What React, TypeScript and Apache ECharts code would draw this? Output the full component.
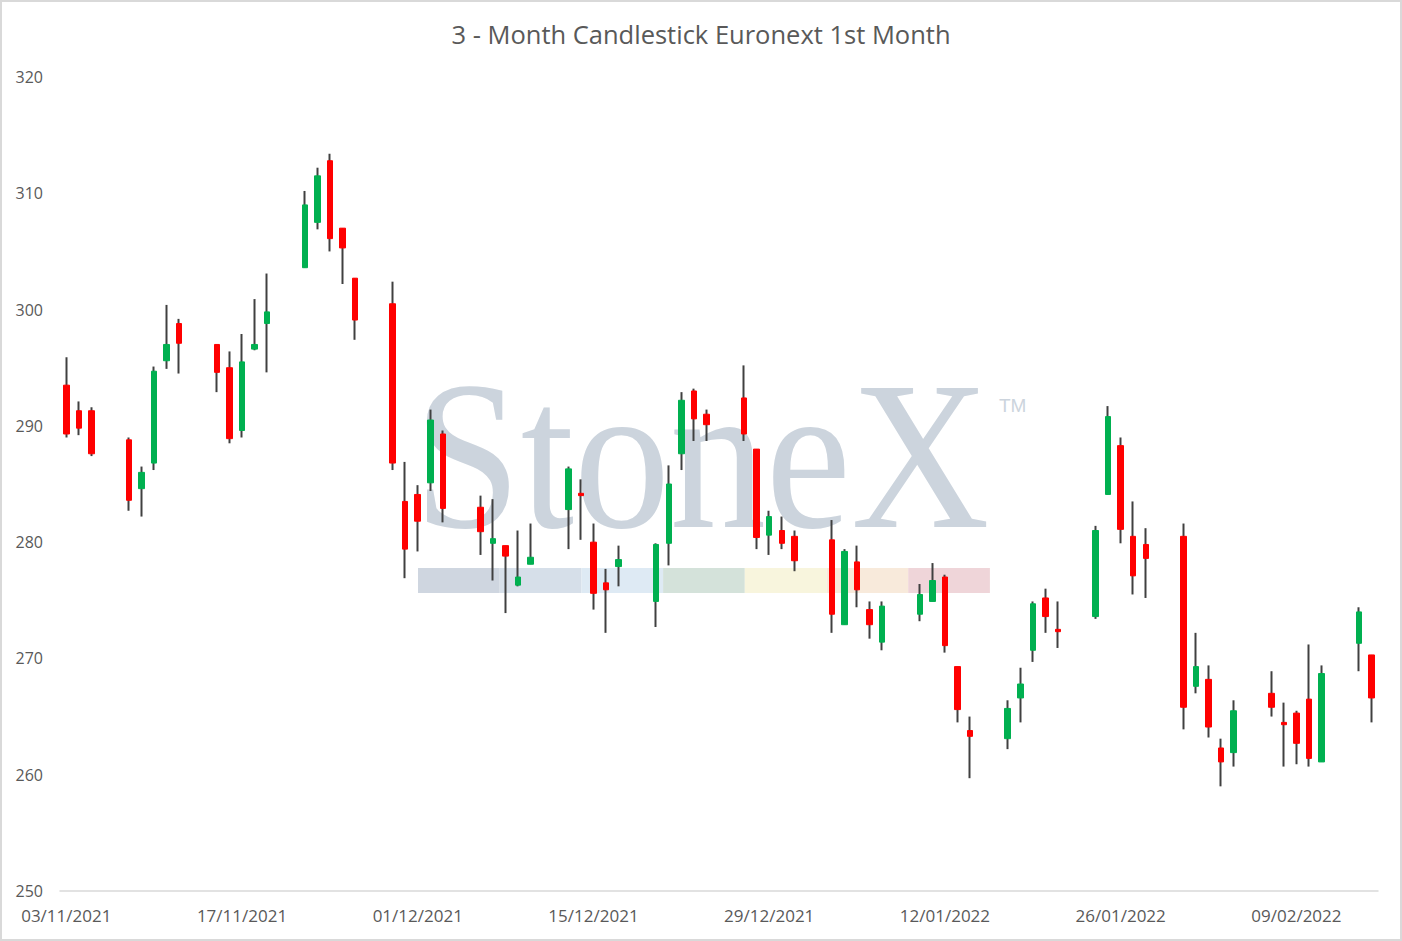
import { useEffect, useRef } from 'react';
import * as echarts from 'echarts';

// trading days (dd/mm/yyyy) and daily prices
const dates = [
  '03/11/2021', '04/11/2021', '05/11/2021',
  '08/11/2021', '09/11/2021', '10/11/2021', '11/11/2021', '12/11/2021',
  '15/11/2021', '16/11/2021', '17/11/2021', '18/11/2021', '19/11/2021',
  '22/11/2021', '23/11/2021', '24/11/2021', '25/11/2021', '26/11/2021',
  '29/11/2021', '30/11/2021', '01/12/2021', '02/12/2021', '03/12/2021',
  '06/12/2021', '07/12/2021', '08/12/2021', '09/12/2021', '10/12/2021',
  '13/12/2021', '14/12/2021', '15/12/2021', '16/12/2021', '17/12/2021',
  '20/12/2021', '21/12/2021', '22/12/2021', '23/12/2021', '24/12/2021',
  '27/12/2021', '28/12/2021', '29/12/2021', '30/12/2021', '31/12/2021',
  '03/01/2022', '04/01/2022', '05/01/2022', '06/01/2022', '07/01/2022',
  '10/01/2022', '11/01/2022', '12/01/2022', '13/01/2022', '14/01/2022',
  '17/01/2022', '18/01/2022', '19/01/2022', '20/01/2022', '21/01/2022',
  '24/01/2022', '25/01/2022', '26/01/2022', '27/01/2022', '28/01/2022',
  '31/01/2022', '01/02/2022', '02/02/2022', '03/02/2022', '04/02/2022',
  '07/02/2022', '08/02/2022', '09/02/2022', '10/02/2022', '11/02/2022',
  '14/02/2022', '15/02/2022'
];

const open = [
  293.5, 291.3, 291.3,
  288.8, 284.6, 286.8, 295.6, 298.8,
  297.0, 295.0, 289.6, 296.6, 298.8,
  303.6, 307.5, 312.8, 307.0, 302.7,
  300.5, 283.5, 284.1, 285.1, 289.3,
  283.0, 279.9, 279.7, 276.3, 278.1,
  282.8, 284.2, 280.0, 276.5, 277.9,
  274.9, 279.9, 287.6, 293.0, 291.0,
  292.4, 288.0, 280.6, 281.0, 280.5,
  280.2, 272.9, 278.3, 274.2, 271.4,
  273.8, 274.9, 277.0, 269.3, 263.8,
  263.1, 266.6, 270.7, 275.2, 272.5,
  273.6, 284.1, 288.3, 280.5, 279.8,
  280.5, 267.6, 268.2, 262.3, 261.9,
  267.0, 264.5, 265.3, 266.5, 261.1,
  271.3, 270.3
];

const close = [
  289.3, 289.8, 287.6,
  283.6, 286.0, 294.7, 297.0, 297.1,
  294.6, 288.9, 295.5, 297.0, 299.8,
  309.0, 311.5, 306.1, 305.3, 299.1,
  286.8, 279.4, 281.8, 290.5, 282.9,
  280.9, 280.3, 278.8, 277.0, 278.7,
  286.3, 284.0, 275.6, 275.9, 278.5,
  279.8, 285.0, 292.2, 290.6, 290.1,
  289.3, 280.4, 282.2, 279.9, 278.4,
  273.8, 279.2, 275.9, 272.9, 274.5,
  275.5, 276.7, 271.1, 265.6, 263.3,
  265.7, 267.8, 274.7, 273.6, 272.3,
  281.0, 290.8, 281.1, 277.1, 278.6,
  265.8, 269.3, 264.1, 261.1, 265.5,
  265.8, 264.3, 262.7, 261.4, 268.7,
  274.0, 266.6
];

const low = [
  289.0, 289.2, 287.4,
  282.7, 282.2, 286.2, 294.9, 294.5,
  292.9, 288.5, 289.0, 296.5, 294.6,
  303.6, 306.9, 305.0, 302.2, 297.4,
  286.2, 276.9, 279.2, 284.4, 281.7,
  278.9, 276.7, 273.9, 276.2, 278.1,
  279.4, 280.2, 274.2, 272.2, 276.2,
  272.7, 278.0, 286.2, 288.7, 288.7,
  288.7, 279.4, 278.9, 279.4, 277.5,
  272.2, 272.9, 274.4, 271.7, 270.7,
  273.2, 274.9, 270.5, 264.5, 259.7,
  262.2, 264.5, 269.7, 272.2, 270.9,
  273.4, 284.1, 279.9, 275.5, 275.2,
  263.9, 267.0, 263.2, 259.0, 260.7,
  265.0, 260.7, 260.9, 260.7, 261.1,
  268.9, 264.5
];

const high = [
  295.9, 292.1, 291.6,
  289.0, 286.5, 295.1, 300.4, 299.2,
  297.0, 296.4, 297.9, 300.9, 303.1,
  310.2, 312.2, 313.4, 307.0, 302.7,
  302.4, 286.9, 284.9, 291.4, 289.6,
  284.0, 283.7, 279.7, 281.0, 281.6,
  286.5, 285.4, 281.6, 277.7, 279.7,
  279.9, 286.6, 292.9, 293.2, 291.4,
  295.2, 288.0, 282.7, 282.2, 281.0,
  281.9, 279.4, 279.7, 274.9, 274.9,
  276.4, 278.2, 277.2, 269.3, 265.0,
  266.4, 269.2, 274.9, 276.0, 274.9,
  281.4, 291.7, 289.0, 283.5, 281.2,
  281.6, 272.2, 269.4, 263.1, 266.4,
  268.9, 266.2, 265.5, 271.2, 269.4,
  274.4, 270.3
];

const DAY = 86400000;
const pad = (n: number) => (n < 10 ? '0' + n : '' + n);
const toUTC = (d: string) => {
  const [dd, mm, yy] = d.split('/').map(Number);
  return Date.UTC(yy, mm - 1, dd);
};
const fmt = (t: number) => {
  const d = new Date(t);
  return pad(d.getUTCDate()) + '/' + pad(d.getUTCMonth() + 1) + '/' + d.getUTCFullYear();
};

// date axis: every calendar day between first and last trading day
const calendar: string[] = [];
for (let t = toUTC(dates[0]); t <= toUTC(dates[dates.length - 1]); t += DAY) {
  calendar.push(fmt(t));
}
const indexOf = new Map(dates.map((d, i) => [d, i]));

const wickData = calendar.map(d => {
  const i = indexOf.get(d);
  return i === undefined ? '-' : [open[i], close[i], low[i], high[i]];
});
const bodyData = calendar.map(d => {
  const i = indexOf.get(d);
  if (i === undefined) return '-';
  return [open[i], close[i], Math.min(open[i], close[i]), Math.max(open[i], close[i])];
});

const FONT = '"Open Sans", "Noto Sans", sans-serif';
const TEXT = '#595959';
const WM = '#ccd4dd';
const stripe = ['#cfd6e0', '#d6dfe9', '#deeaf4', '#d4e2da', '#f8f5dd', '#f8eadb', '#efd5d9'];

export default function App() {
  const chartRef = useRef<HTMLDivElement>(null);

  useEffect(() => {
    document.body.style.margin = '0';
    if (!chartRef.current) return;
    const chart = echarts.init(chartRef.current, null, { renderer: 'svg' });

    const options: echarts.EChartsOption = {
      animation: false,
      backgroundColor: '#ffffff',
      title: {
        text: '3 - Month Candlestick Euronext 1st Month',
        left: 'center',
        top: 21,
        padding: 0,
        textStyle: { fontFamily: FONT, fontSize: 25.5, fontWeight: 'normal', color: TEXT }
      },
      grid: { left: 60, right: 24, top: 77, bottom: 50 },
      graphic: [
        {
          type: 'rect',
          silent: true,
          shape: { x: 1, y: 1, width: 1400, height: 939 },
          style: { fill: 'none', stroke: '#d9d9d9', lineWidth: 2 }
        },
        // StoneX watermark
        {
          type: 'text',
          silent: true,
          x: 414,
          y: 456,
          scaleX: 0.905,
          style: {
            text: 'StoneX',
            fontFamily: '"Liberation Serif", "DejaVu Serif", serif',
            fontSize: 212,
            fill: WM,
            align: 'left',
            verticalAlign: 'middle'
          }
        },
        {
          type: 'text',
          silent: true,
          x: 999,
          y: 396,
          style: {
            text: 'TM',
            fontFamily: '"Liberation Sans", sans-serif',
            fontSize: 19,
            fill: WM,
            align: 'left',
            verticalAlign: 'top'
          }
        },
        ...stripe.map((c, k) => ({
          type: 'rect' as const,
          silent: true,
          shape: { x: 418 + k * 81.7, y: 568, width: 81.7, height: 25 },
          style: { fill: c }
        }))
      ],
      xAxis: {
        type: 'category',
        data: calendar,
        boundaryGap: true,
        axisLine: { lineStyle: { color: '#d9d9d9', width: 1.5 } },
        axisTick: { show: false },
        axisLabel: { interval: 13, fontFamily: FONT, fontSize: 17, color: TEXT, margin: 16 },
        splitLine: { show: false }
      },
      yAxis: {
        type: 'value',
        min: 250,
        max: 320,
        interval: 10,
        axisLine: { show: false },
        axisTick: { show: false },
        splitLine: { show: false },
        axisLabel: { fontFamily: FONT, fontSize: 16, color: TEXT, margin: 17 }
      },
      series: [
        {
          name: 'High-Low',
          type: 'candlestick',
          barWidth: 1,
          data: wickData as any,
          itemStyle: {
            color: '#404040',
            color0: '#404040',
            borderColor: '#404040',
            borderColor0: '#404040',
            borderWidth: 2
          }
        },
        {
          name: 'Open-Close',
          type: 'candlestick',
          barWidth: 6,
          data: bodyData as any,
          itemStyle: {
            color: '#00b050',
            color0: '#ff0000',
            borderColor: '#00b050',
            borderColor0: '#ff0000',
            borderWidth: 1
          }
        }
      ]
    };

    chart.setOption(options);
    return () => chart.dispose();
  }, []);

  return <div ref={chartRef} style={{ width: 1402, height: 941 }} />;
}
